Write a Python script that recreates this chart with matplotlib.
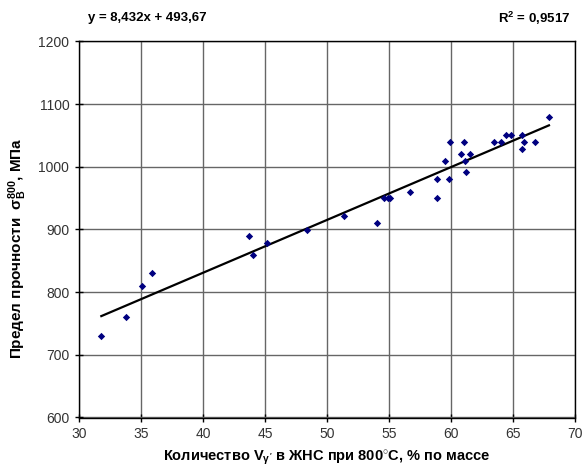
import numpy as np
import matplotlib.pyplot as plt

plt.rcParams['font.family'] = ['Liberation Sans', 'DejaVu Sans']
plt.rcParams['mathtext.fontset'] = 'custom'
plt.rcParams['mathtext.rm'] = 'Liberation Sans:bold'
plt.rcParams['mathtext.it'] = 'Liberation Sans:bold'
plt.rcParams['mathtext.bf'] = 'Liberation Sans:bold'

# Experimental points (gamma' amount, %  vs  strength at 800 C, MPa)
x_vals = [31.8, 33.8, 35.05, 35.9, 43.7, 44.05, 45.2, 48.4, 51.4, 54.0,
          54.6, 54.9, 55.1, 56.7, 58.9, 58.9, 59.8, 59.5, 59.9, 60.8,
          61.05, 61.1, 61.2, 61.5, 63.5, 64.0, 64.4, 64.8, 65.7, 65.7,
          65.9, 66.8, 67.9]
y_vals = [730, 761, 810, 830, 890, 860, 879, 899, 921, 911,
          951, 950, 950, 960, 950, 981, 981, 1010, 1040, 1020,
          1040, 1010, 991, 1020, 1040, 1040, 1051, 1051, 1051, 1029,
          1040, 1040, 1079]

# linear trend from the chart
slope = 8.432
intercept = 493.67
r2 = 0.9517

fig = plt.figure(figsize=(5.82, 4.73), dpi=100)
ax = fig.add_axes([79 / 582, 1 - 417.5 / 473, (575 - 79) / 582, (417.5 - 41.5) / 473])

ax.scatter(x_vals, y_vals, marker='D', s=14, color='#000080', zorder=3, linewidths=0)

xl = np.array([min(x_vals), max(x_vals)])
ax.plot(xl, slope * xl + intercept, color='black', linewidth=1.6, zorder=2)

ax.set_xlim(30, 70)
ax.set_ylim(600, 1200)
ax.set_xticks(np.arange(30, 71, 5))
ax.set_yticks(np.arange(600, 1201, 100))
ax.grid(True, color='#666666', linewidth=1.0)
ax.set_axisbelow(True)
for s in ax.spines.values():
    s.set_color('black')
    s.set_linewidth(1.0)
ax.tick_params(direction='inout', length=6, width=1, colors='black',
               labelcolor='#333333', labelsize=10, pad=4)

ax.set_xlabel("Количество V$_{\\gamma'}$ в ЖНС при 800$^{\\circ}$C, % по массе",
              fontsize=10.5, fontweight='bold', labelpad=5)
ax.set_ylabel("Предел прочности  $\\mathbf{\\sigma}_{В}^{800}$, МПа",
              fontsize=11, fontweight='bold')
ax.yaxis.set_label_coords(-0.1, 0.45)

fig.text(88 / 582, 1 - 18 / 473, "y = 8,432x + 493,67", fontsize=9.5,
         fontweight='bold', va='center', ha='left')
fig.text(570 / 582, 1 - 18 / 473, "R$^{2}$ = 0,9517", fontsize=9.5,
         fontweight='bold', va='center', ha='right')

fig.savefig('out.png', dpi=100)
